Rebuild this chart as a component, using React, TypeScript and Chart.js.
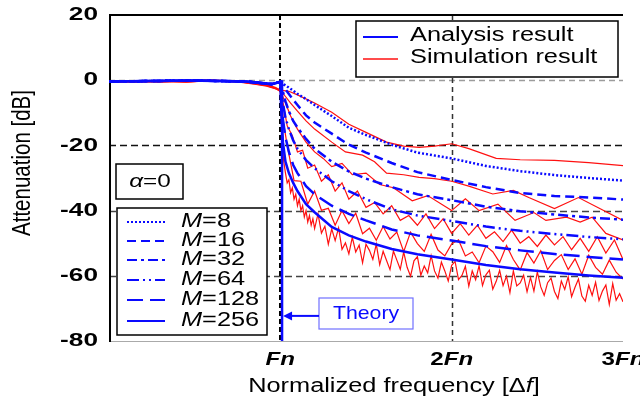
import React, { useEffect, useRef } from "react";
import { Chart, registerables } from "chart.js";

Chart.register(...registerables);

// ---------- data ----------
const xTickLabels = ["", "Fn", "2Fn", "3Fn"];
const mValues = ["8", "16", "32", "64", "128", "256"];

// analysis results (blue)
const anaX = [0, 0.5, 0.8, 0.95, 1, 1.005, 1.015, 1.03, 1.05, 1.075, 1.1, 1.15, 1.2, 1.3, 1.4, 1.5, 1.65, 1.8, 2, 2.2, 2.4, 2.6, 2.8, 3];
const ana8 = [-0.4, -0.1, -0.4, -1.2, -0.5, -0.8, -1.1, -1.6, -2.3, -3.2, -4.2, -5.8, -7.6, -11, -14.6, -16.8, -19.8, -22.2, -24, -26.3, -27.9, -29.1, -30, -30.8];
const ana16 = [-0.4, -0.1, -0.4, -1.2, -0.5, -1, -1.8, -2.8, -4.2, -6, -7.6, -10.8, -13, -16.4, -19.8, -22.2, -25.4, -28.2, -30.6, -32.8, -34.6, -35.5, -36, -36.6];
const ana32 = [-0.4, -0.1, -0.4, -1.2, -0.5, -1.5, -3.5, -6.5, -9.5, -12.5, -14.5, -18, -21, -25, -28, -30.2, -32.8, -35, -36.8, -38.8, -40.2, -41.2, -42.1, -42.8];
const ana64 = [-0.4, -0.1, -0.4, -1.2, -0.5, -3, -7, -11.5, -15, -18.5, -21, -24.5, -27, -31, -34, -36.5, -39.6, -41.5, -43.2, -44.9, -46.2, -47.2, -48.1, -48.8];
const ana128 = [-0.4, -0.1, -0.4, -1.2, -0.5, -5, -12, -17.5, -22, -26, -28.5, -32.5, -35, -38.5, -41, -43, -45.8, -47.6, -49.2, -50.9, -52.2, -53.3, -54.2, -55];
const ana256 = [-0.4, -0.1, -0.4, -1.2, -0.5, -9, -19, -25, -28.5, -31.5, -34, -38, -40.5, -45, -47.6, -49.5, -51.8, -53.4, -55, -56.7, -58, -59, -59.9, -60.6];

// theory line
const theoryX = [1.01, 1.01];
const theoryY = [0, -80];

// simulation results (red)
const sim8X = [0, 0.15, 0.3, 0.45, 0.6, 0.75, 0.85, 0.92, 0.97, 1, 1.05, 1.1, 1.2, 1.3, 1.4, 1.5, 1.62, 1.72, 1.81, 1.9, 2, 2.1, 2.26, 2.4, 2.6, 2.8, 3];
const sim8Y = [-0.6, -0.4, -0.5, -0.2, 0, -0.3, -0.8, -1.4, -2.2, -3, -3.4, -4.5, -7, -9.8, -13.5, -16, -19, -20.2, -20.6, -20.2, -19.5, -21, -24, -24.4, -24.6, -25.3, -26.2];

const sim16X = [0, 0.15, 0.3, 0.45, 0.6, 0.75, 0.85, 0.92, 0.97, 1, 1.03, 1.06, 1.1, 1.15, 1.2, 1.3, 1.38, 1.48, 1.55, 1.62, 1.72, 1.81, 1.9, 2, 2.1, 2.24, 2.36, 2.45, 2.6, 2.74, 2.87, 3];
const sim16Y = [-0.5, -0.3, -0.6, -0.3, -0.1, -0.4, -1, -1.6, -2.4, -3, -5, -7, -9.5, -12.5, -15, -19, -22, -23, -25, -28.5, -29, -29.8, -30.2, -31, -32.5, -34.9, -33.8, -36, -39.4, -36, -39.5, -43];

const sim32X = [0, 0.15, 0.3, 0.45, 0.6, 0.75, 0.85, 0.92, 0.97, 1, 1.03, 1.06, 1.1, 1.15, 1.2, 1.25, 1.3, 1.36, 1.42, 1.5, 1.58, 1.66, 1.77, 1.86, 2, 2.08, 2.16, 2.27, 2.37, 2.48, 2.55, 2.67, 2.75, 2.82, 2.9, 3];
const sim32Y = [-0.4, -0.6, -0.3, -0.5, -0.2, -0.5, -1.2, -1.8, -2.6, -3.2, -7, -11, -15, -19, -22, -24, -26.5, -25.5, -29, -28.5, -32, -33, -37, -35.4, -40, -36.4, -40, -38, -43, -40.6, -43, -42, -43.5, -42, -47, -49];

const sim64X = [0, 0.15, 0.3, 0.45, 0.6, 0.75, 0.85, 0.92, 0.97, 1, 1.02, 1.04, 1.07, 1.1, 1.13, 1.16, 1.2, 1.24, 1.28, 1.32, 1.36, 1.4, 1.45, 1.5, 1.55, 1.6, 1.65, 1.7, 1.75, 1.8, 1.85, 1.9, 1.95, 2, 2.05, 2.1, 2.15, 2.2, 2.25, 2.3, 2.35, 2.4, 2.45, 2.5, 2.55, 2.6, 2.65, 2.7, 2.75, 2.8, 2.85, 2.9, 2.95, 3];
const sim64Y = [-0.5, -0.3, -0.4, -0.6, -0.1, -0.4, -1.1, -1.7, -2.5, -3.2, -8, -14, -17, -22, -21.5, -27, -26, -31, -29, -34, -31.5, -36.5, -34, -39, -37.5, -41, -38.5, -43, -41.5, -44.5, -41, -45.5, -42.5, -47, -44, -47.5, -44.5, -48.5, -46.5, -49.5, -46, -50, -48, -51, -47.5, -50.5, -48, -52, -48.5, -52.5, -48, -53, -49, -55];

const sim128X = [0, 0.15, 0.3, 0.45, 0.6, 0.75, 0.85, 0.92, 0.97, 1, 1.01, 1.02, 1.04, 1.08, 1.12, 1.16, 1.2, 1.24, 1.28, 1.32, 1.36, 1.4, 1.44, 1.48, 1.52, 1.56, 1.6, 1.64, 1.68, 1.72, 1.76, 1.8, 1.84, 1.88, 1.92, 1.96, 2, 2.04, 2.08, 2.12, 2.16, 2.2, 2.24, 2.28, 2.32, 2.36, 2.4, 2.44, 2.48, 2.52, 2.56, 2.6, 2.64, 2.68, 2.72, 2.76, 2.8, 2.84, 2.88, 2.92, 2.96, 3];
const sim128Y = [-0.3, -0.5, -0.4, -0.3, 0, -0.5, -1, -1.5, -2.3, -3.3, -8, -13.5, -20, -30.8, -31, -38, -34, -39.9, -39.3, -44.5, -40, -44, -40.8, -47.1, -45.4, -49.1, -44.9, -48.7, -46.6, -52.6, -46.6, -50.1, -52.5, -47.3, -52.1, -53.9, -50.2, -49, -53.9, -52.7, -56, -50.9, -52.6, -55.9, -50.7, -55, -58.2, -52.9, -56.1, -52.3, -58.1, -55.3, -53.5, -58.1, -54.8, -59.5, -53.7, -57.4, -59.5, -55.2, -58.9, -61];

const sim256X = [0, 0.15, 0.3, 0.45, 0.6, 0.75, 0.85, 0.92, 0.97, 1,
  1.005, 1.01, 1.015, 1.02, 1.03, 1.04, 1.05, 1.06, 1.07, 1.08, 1.09, 1.1, 1.11, 1.12, 1.13, 1.14, 1.15, 1.16, 1.17, 1.18, 1.19, 1.2,
  1.22, 1.24, 1.26, 1.28, 1.3, 1.32, 1.34, 1.36, 1.38, 1.4,
  1.42, 1.44, 1.46, 1.48, 1.5, 1.52, 1.54, 1.56, 1.58, 1.6,
  1.62, 1.64, 1.66, 1.68, 1.7, 1.72, 1.74, 1.76, 1.78, 1.8,
  1.82, 1.84, 1.86, 1.88, 1.9, 1.92, 1.94, 1.96, 1.98, 2,
  2.02, 2.04, 2.06, 2.08, 2.1, 2.12, 2.14, 2.16, 2.18, 2.2,
  2.22, 2.24, 2.26, 2.28, 2.3, 2.32, 2.34, 2.36, 2.38, 2.4,
  2.42, 2.44, 2.46, 2.48, 2.5, 2.52, 2.54, 2.56, 2.58, 2.6,
  2.62, 2.64, 2.66, 2.68, 2.7, 2.72, 2.74, 2.76, 2.78, 2.8,
  2.82, 2.84, 2.86, 2.88, 2.9, 2.92, 2.94, 2.96, 2.98, 3];
const sim256Y = [-0.7, -0.4, -0.2, -0.5, -0.1, -0.3, -0.9, -1.6, -2.4, -3.5,
  -10, -17, -22, -25, -28.5, -31.5, -30.5, -34.5, -33, -36.5, -35, -38.5, -36.5, -40, -38.5, -42, -40, -43.5, -41.5, -44.5, -42.5, -45.5,
  -41, -46.9, -44.8, -50.3, -45.6, -49.2, -45.3, -51.9, -49.9, -53.3,
  -48.2, -52.7, -50.6, -56, -50.3, -52.2, -55, -50.3, -56.6, -52.5,
  -55.3, -58.1, -52.4, -55.2, -58, -52.7, -57.4, -60.1, -55.4, -54.1,
  -59.8, -57, -59.1, -53.8, -58.5, -60.7, -55.8, -58.5, -61.6, -56.8,
  -55.6, -61.2, -59.9, -57.1, -63.2, -58.5, -61.2, -56.9, -63, -59.7,
  -58.3, -64.1, -61.7, -58.3, -63, -60.1, -65.2, -58.5, -63.1, -62.2,
  -59.8, -64.9, -60.5, -64.7, -58.8, -63.4, -66, -62.1, -60.7, -64.8,
  -67, -61.6, -64.2, -60.3, -66.4, -63.5, -61, -66.2, -67.8, -62.9,
  -66, -62, -67.6, -64.7, -62.8, -68.8, -62.4, -67.5, -65.5, -68];

// ---------- styles ----------
const BLUE = "#0a0aff";
const RED = "#ff1010";
const FONT = "'Liberation Sans', Arial, Helvetica, sans-serif";
const dashes: number[][] = [[2, 2], [9, 5], [10, 4, 3, 4], [12, 4, 2, 4, 2, 4], [16, 7], []];

const pts = (xs: number[], ys: number[]) => xs.map((x, i) => ({ x, y: ys[i] }));

type Part = { t: string; font: string; color?: string };

function drawText(ctx: CanvasRenderingContext2D, parts: Part[], x: number, y: number, align: string, sx: number) {
  ctx.save();
  ctx.textBaseline = "middle";
  ctx.textAlign = "left";
  let total = 0;
  for (const p of parts) {
    ctx.font = p.font;
    total += ctx.measureText(p.t).width;
  }
  ctx.translate(x, y);
  ctx.scale(sx, 1);
  let cx = align === "left" ? 0 : align === "right" ? -total : -total / 2;
  for (const p of parts) {
    ctx.font = p.font;
    ctx.fillStyle = p.color || "#000";
    ctx.fillText(p.t, cx, 0);
    cx += ctx.measureText(p.t).width;
  }
  ctx.restore();
}

function box(ctx: CanvasRenderingContext2D, l: number, t: number, r: number, b: number, stroke: string, w: number) {
  ctx.save();
  ctx.fillStyle = "#fff";
  ctx.fillRect(l, t, r - l, b - t);
  ctx.strokeStyle = stroke;
  ctx.lineWidth = w;
  ctx.setLineDash([]);
  ctx.strokeRect(l, t, r - l, b - t);
  ctx.restore();
}

function seg(ctx: CanvasRenderingContext2D, x1: number, y1: number, x2: number, y2: number, color: string, w: number, dash: number[]) {
  ctx.save();
  ctx.beginPath();
  ctx.strokeStyle = color;
  ctx.lineWidth = w;
  ctx.setLineDash(dash);
  ctx.moveTo(x1, y1);
  ctx.lineTo(x2, y2);
  ctx.stroke();
  ctx.restore();
}

const gridPlugin = {
  id: "customGrid",
  beforeDatasetsDraw(chart: any) {
    const { ctx, chartArea: a, scales } = chart;
    const x = scales.x;
    const y = scales.y;
    for (const t of y.ticks) {
      const v = t.value;
      const py = Math.round(y.getPixelForValue(v)) + 0.5;
      if (v === 0) seg(ctx, a.left, py, a.right, py, "#9c9c9c", 1.3, [6, 4]);
      else if (v === -20) seg(ctx, a.left, py, a.right, py, "#111", 1.6, [7, 4]);
      else if (v === -40 || v === -60) seg(ctx, a.left, py, a.right, py, "#444", 1.4, [7, 4]);
    }
    for (const t of x.ticks) {
      const v = t.value;
      const px = Math.round(x.getPixelForValue(v));
      if (v === 1) seg(ctx, px, a.top, px, a.bottom, "#000", 2, [5, 3]);
      else if (v === 2) seg(ctx, px + 0.5, a.top, px + 0.5, a.bottom, "#333", 1.5, [5, 4]);
    }
    seg(ctx, a.left, a.bottom + 0.5, a.right, a.bottom + 0.5, "#aaa", 1, []);
    seg(ctx, a.left, a.top, a.right, a.top, "#000", 2, []);
    seg(ctx, a.left + 1, a.top, a.left + 1, a.bottom + 1, "#000", 2, []);
  },
};

const textPlugin = {
  id: "customText",
  afterDraw(chart: any) {
    const { ctx, scales } = chart;
    const x = scales.x;
    const y = scales.y;
    // y tick labels
    for (const t of y.ticks) {
      drawText(ctx, [{ t: String(t.value), font: `bold 19px ${FONT}` }], 98, y.getPixelForValue(t.value), "right", 1.38);
    }
    // x tick labels
    for (const t of x.ticks) {
      const lab = xTickLabels[t.value] || "";
      if (!lab) continue;
      const num = lab.slice(0, lab.length - 2);
      const parts: Part[] = [];
      if (num) parts.push({ t: num, font: `bold 19px ${FONT}` });
      parts.push({ t: "Fn", font: `italic bold 19px ${FONT}` });
      drawText(ctx, parts, x.getPixelForValue(t.value), 360, "center", 1.27);
    }
    // axis titles
    drawText(ctx, [
      { t: "Normalized frequency [Δ", font: `19.5px ${FONT}` },
      { t: "f", font: `italic 19.5px ${FONT}` },
      { t: "]", font: `19.5px ${FONT}` },
    ], 394, 387, "center", 1.3);
    ctx.save();
    ctx.translate(23, 163);
    ctx.scale(1.3, 1);
    ctx.rotate(-Math.PI / 2);
    ctx.font = `20.5px ${FONT}`;
    ctx.fillStyle = "#000";
    ctx.textAlign = "center";
    ctx.textBaseline = "middle";
    ctx.fillText("Attenuation [dB]", 0, 0);
    ctx.restore();

    // top-right legend
    box(ctx, 356, 21, 618, 77, "#000", 1.5);
    seg(ctx, 363, 37, 398, 37, BLUE, 2, []);
    seg(ctx, 363, 59, 398, 59, RED, 1.5, []);
    drawText(ctx, [{ t: "Analysis result", font: `19.5px ${FONT}` }], 410, 36, "left", 1.3);
    drawText(ctx, [{ t: "Simulation result", font: `19.5px ${FONT}` }], 410, 58, "left", 1.3);

    // alpha box
    box(ctx, 116, 164, 183, 199, "#000", 1.5);
    drawText(ctx, [
      { t: "α", font: `italic 18px ${FONT}` },
      { t: "=0", font: `18px ${FONT}` },
    ], 150, 182, "center", 1.35);

    // M legend
    box(ctx, 117, 208, 267, 335, "#000", 1.5);
    const rows = [222, 241, 260, 280, 300, 321];
    mValues.forEach((m, i) => {
      seg(ctx, 127, rows[i], 165, rows[i], BLUE, 2.2, dashes[i]);
      drawText(ctx, [
        { t: "M", font: `italic 19.5px ${FONT}` },
        { t: "=" + m, font: `19.5px ${FONT}` },
      ], 181, rows[i], "left", 1.3);
    });

    // Theory box and arrow
    const tx = x.getPixelForValue(theoryX[0]);
    const ay = y.getPixelForValue(-72.3);
    box(ctx, 319, 298, 413, 329, "#7070ff", 1.2);
    drawText(ctx, [{ t: "Theory", font: `18.5px ${FONT}`, color: BLUE }], 366, 314, "center", 1.15);
    seg(ctx, 319, ay, tx + 6, ay, BLUE, 2, []);
    ctx.save();
    ctx.fillStyle = BLUE;
    ctx.beginPath();
    ctx.moveTo(tx + 1, ay);
    ctx.lineTo(tx + 10, ay - 4.5);
    ctx.lineTo(tx + 10, ay + 4.5);
    ctx.closePath();
    ctx.fill();
    ctx.restore();
  },
};

export default function App() {
  const ref = useRef<HTMLCanvasElement>(null);
  useEffect(() => {
    if (!ref.current) return;
    const anaSets = [ana8, ana16, ana32, ana64, ana128, ana256].map((ys, i) => ({
      label: "Analysis M=" + mValues[i],
      data: pts(anaX, ys),
      borderColor: BLUE,
      borderWidth: 2.5,
      borderDash: dashes[i],
      pointRadius: 0,
      fill: false,
      tension: 0,
    }));
    const simSets = [
      [sim8X, sim8Y],
      [sim16X, sim16Y],
      [sim32X, sim32Y],
      [sim64X, sim64Y],
      [sim128X, sim128Y],
      [sim256X, sim256Y],
    ].map(([xs, ys], i) => ({
      label: "Simulation M=" + mValues[i],
      data: pts(xs, ys),
      borderColor: RED,
      borderWidth: 1.2,
      pointRadius: 0,
      fill: false,
      tension: 0,
    }));
    const theorySet = {
      label: "Theory",
      data: pts(theoryX, theoryY),
      borderColor: BLUE,
      borderWidth: 2.5,
      pointRadius: 0,
      fill: false,
    };
    const chart = new Chart(ref.current, {
      type: "line",
      data: { datasets: [theorySet, ...anaSets, ...simSets] as any },
      options: {
        animation: false,
        responsive: true,
        maintainAspectRatio: false,
        layout: { padding: { left: 109, right: 17, top: 15, bottom: 60 } },
        plugins: { legend: { display: false }, tooltip: { enabled: false }, title: { display: false } },
        scales: {
          x: { type: "linear", min: 0, max: 3, display: false, ticks: { stepSize: 1 } },
          y: { type: "linear", min: -80, max: 20, display: false, ticks: { stepSize: 20 } },
        },
      },
      plugins: [gridPlugin, textPlugin],
    });
    return () => chart.destroy();
  }, []);
  return (
    <div style={{ position: "fixed", left: 0, top: 0, width: 640, height: 401, background: "#fff" }}>
      <canvas ref={ref} />
    </div>
  );
}
